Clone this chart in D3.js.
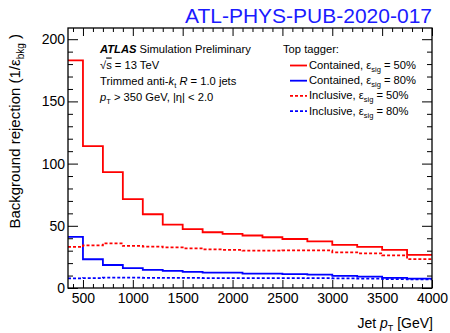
<!DOCTYPE html>
<html>
<head>
<meta charset="utf-8">
<script src="https://cdn.jsdelivr.net/npm/d3@7"></script>
<style>
  html, body { margin: 0; padding: 0; background: #fff; }
  svg { display: block; font-family: "Liberation Sans", Arial, Helvetica, sans-serif; }
</style>
</head>
<body>
<svg id="chart" width="450" height="333"></svg>
<script>
// Jet pT bin edges [GeV]
const binEdges = [350, 500, 700, 900, 1100, 1300, 1500, 1700, 1900, 2100, 2300, 2500, 2750, 3000, 3250, 3500, 3750, 4000];

// Background rejection 1/eps_bkg per bin
const contained50 = [183, 114, 93.2, 71.4, 59.3, 51.0, 47.3, 44.8, 43.5, 42.2, 40.8, 39.4, 37.5, 34.6, 33.0, 30.6, 26.6];
const contained80 = [41.1, 23.1, 18.5, 15.9, 14.5, 13.7, 12.9, 12.4, 12.3, 11.6, 11.5, 11.2, 10.8, 9.7, 9.2, 8.1, 7.6];
const inclusive50 = [33.0, 34.2, 35.8, 33.8, 33.2, 32.6, 31.8, 31.0, 30.6, 30.0, 30.0, 30.2, 30.2, 28.7, 27.8, 26.2, 23.2];
const inclusive80 = [7.8, 8.0, 8.4, 8.3, 8.2, 8.1, 8.1, 8.0, 8.0, 8.0, 8.0, 8.0, 7.9, 7.8, 7.6, 7.2, 7.0];

// Axis ticks
const xMajorTicks = [500, 1000, 1500, 2000, 2500, 3000, 3500, 4000];
const yMajorTicks = [0, 50, 100, 150, 200];

const seriesList = [
  { name: "Contained", eff: "50%", values: contained50, color: "#ff0000", dash: null },
  { name: "Contained", eff: "80%", values: contained80, color: "#0000ff", dash: null },
  { name: "Inclusive", eff: "50%", values: inclusive50, color: "#ff0000", dash: "3,2" },
  { name: "Inclusive", eff: "80%", values: inclusive80, color: "#0000ff", dash: "3,2" }
];

const frame = { left: 68, right: 432, top: 28, bottom: 288 };
const svg = d3.select("#chart");

const x = d3.scaleLinear().domain([350, 4000]).range([frame.left, frame.right]);
const y = d3.scaleLinear().domain([0, 209]).range([frame.bottom, frame.top]);

const xMinor = d3.range(400, 4001, 100).filter(v => v % 500 !== 0);
const yMinor = d3.range(10, 209, 10).filter(v => v % 50 !== 0);

// histogram step lines
const line = d3.line().x(d => x(d[0])).y(d => y(d[1]));
const plot = svg.append("g");
seriesList.forEach(s => {
  const pts = [];
  s.values.forEach((v, i) => { pts.push([binEdges[i], v]); pts.push([binEdges[i + 1], v]); });
  plot.append("path")
    .attr("d", line(pts))
    .attr("fill", "none")
    .attr("stroke", s.color)
    .attr("stroke-width", 1.8)
    .attr("stroke-dasharray", s.dash);
});

// axes
const axStyle = g => {
  g.select(".domain").remove();
  g.selectAll("line").attr("stroke", "#000").attr("stroke-width", 1);
  g.selectAll("text").attr("font-size", 14).attr("fill", "#000")
    .attr("font-family", "'Liberation Sans', Arial, Helvetica, sans-serif");
};

svg.append("g").attr("transform", `translate(0,${frame.bottom})`)
  .call(d3.axisBottom(x).tickValues(xMajorTicks).tickSize(-8).tickPadding(5.5).tickFormat(d3.format("d")))
  .call(axStyle);
svg.append("g").attr("transform", `translate(0,${frame.bottom})`)
  .call(d3.axisBottom(x).tickValues(xMinor).tickSize(-4).tickFormat(""))
  .call(axStyle);
svg.append("g").attr("transform", `translate(0,${frame.top})`)
  .call(d3.axisTop(x).tickValues(xMajorTicks).tickSize(-8).tickFormat(""))
  .call(axStyle);
svg.append("g").attr("transform", `translate(0,${frame.top})`)
  .call(d3.axisTop(x).tickValues(xMinor).tickSize(-4).tickFormat(""))
  .call(axStyle);

svg.append("g").attr("transform", `translate(${frame.left},0)`)
  .call(d3.axisLeft(y).tickValues(yMajorTicks).tickSize(-10).tickPadding(3).tickFormat(d3.format("d")))
  .call(axStyle);
svg.append("g").attr("transform", `translate(${frame.left},0)`)
  .call(d3.axisLeft(y).tickValues(yMinor).tickSize(-5).tickFormat(""))
  .call(axStyle);
svg.append("g").attr("transform", `translate(${frame.right},0)`)
  .call(d3.axisRight(y).tickValues(yMajorTicks).tickSize(-10).tickFormat(""))
  .call(axStyle);
svg.append("g").attr("transform", `translate(${frame.right},0)`)
  .call(d3.axisRight(y).tickValues(yMinor).tickSize(-5).tickFormat(""))
  .call(axStyle);

// frame
svg.append("rect")
  .attr("x", frame.left).attr("y", frame.top)
  .attr("width", frame.right - frame.left).attr("height", frame.bottom - frame.top)
  .attr("fill", "none").attr("stroke", "#000").attr("stroke-width", 1.3);

// publication label
svg.append("text").attr("x", 432).attr("y", 22.5).attr("text-anchor", "end")
  .attr("font-size", 21).attr("fill", "#1a1aff").text("ATL-PHYS-PUB-2020-017");

// axis titles
const xt = svg.append("text").attr("x", 433).attr("y", 328).attr("text-anchor", "end").attr("font-size", 14);
xt.append("tspan").text("Jet ");
xt.append("tspan").attr("font-style", "italic").text("p");
xt.append("tspan").attr("font-size", 9).attr("dy", 3).text("T");
xt.append("tspan").attr("dy", -3).text(" [GeV]");

const yt = svg.append("text").attr("transform", "translate(19.5,34) rotate(-90)")
  .attr("text-anchor", "end").attr("font-size", 15);
yt.append("tspan").text("Background rejection (1/ε");
yt.append("tspan").attr("font-size", 10).attr("dy", 4).text("bkg");
yt.append("tspan").attr("dy", -4).text(" )");

// annotation block
const fs = 11.2;
const t1 = svg.append("text").attr("x", 100).attr("y", 52.5).attr("font-size", fs);
t1.append("tspan").attr("font-weight", "bold").attr("font-style", "italic").text("ATLAS");
t1.append("tspan").text(" Simulation Preliminary");

const t2 = svg.append("text").attr("x", 100).attr("y", 68.5).attr("font-size", fs);
t2.append("tspan").text("√");
t2.append("tspan").attr("text-decoration", "overline").text("s");
t2.append("tspan").text(" = 13 TeV");

const t3 = svg.append("text").attr("x", 100).attr("y", 85).attr("font-size", fs);
t3.append("tspan").text("Trimmed anti-");
t3.append("tspan").attr("font-style", "italic").text("k");
t3.append("tspan").attr("font-size", 7.5).attr("dy", 2.5).text("t");
t3.append("tspan").attr("dy", -2.5).text(" ");
t3.append("tspan").attr("font-style", "italic").text("R");
t3.append("tspan").text(" = 1.0 jets");

const t4 = svg.append("text").attr("x", 100).attr("y", 101).attr("font-size", fs);
t4.append("tspan").attr("font-style", "italic").text("p");
t4.append("tspan").attr("font-size", 7.5).attr("dy", 3).text("T");
t4.append("tspan").attr("dy", -3).text(" > 350 GeV, |η| < 2.0");

// legend
svg.append("text").attr("x", 283).attr("y", 52.5).attr("font-size", fs).text("Top tagger:");
const legend = svg.append("g");
seriesList.forEach((s, i) => {
  const by = 69 + i * 15.2;
  legend.append("line")
    .attr("x1", 290).attr("x2", 307).attr("y1", by - 3.5).attr("y2", by - 3.5)
    .attr("stroke", s.color).attr("stroke-width", 1.8)
    .attr("stroke-dasharray", s.dash);
  const t = legend.append("text").attr("x", 309).attr("y", by).attr("font-size", fs);
  t.append("tspan").text(s.name + ", ε");
  t.append("tspan").attr("font-size", 7.5).attr("dy", 3).text("sig");
  t.append("tspan").attr("dy", -3).text(" = " + s.eff);
});
</script>
</body>
</html>
